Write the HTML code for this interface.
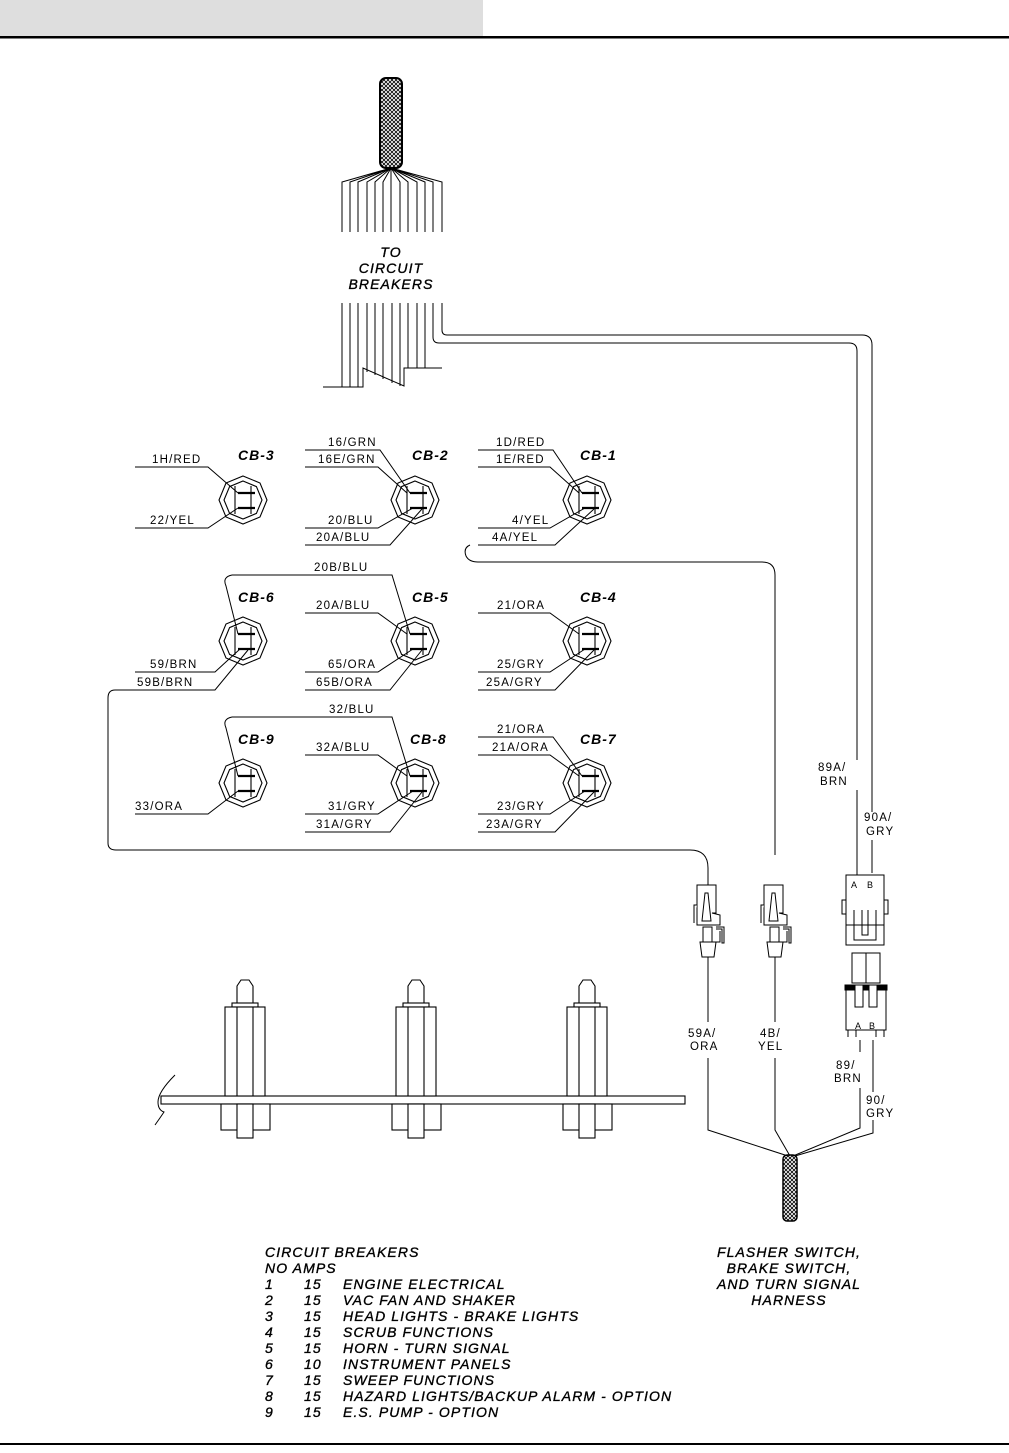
<!DOCTYPE html>
<html><head><meta charset="utf-8"><style>
html,body{margin:0;padding:0;background:#fff;}
svg{display:block;}
text{font-family:"Liberation Sans",sans-serif;fill:#000;}
.w{font-size:11.5px;letter-spacing:1.2px;}
.cb{font-size:14px;font-style:italic;font-weight:bold;letter-spacing:1px;}
.it{font-size:14px;font-style:italic;letter-spacing:1.1px;stroke:#000;stroke-width:0.35px;}
</style></head><body>
<svg width="1009" height="1453" viewBox="0 0 1009 1453" xmlns="http://www.w3.org/2000/svg">
<defs>
<pattern id="mesh" width="4" height="4" patternUnits="userSpaceOnUse">
<path d="M0 0L4 4M4 0L0 4" stroke="#000" stroke-width="0.8"/>
</pattern>
<g id="cbk" fill="none" stroke="#000" stroke-width="1.1">
<polygon points="0,-24 17,-17 24,0 17,17 0,24 -17,17 -24,0 -17,-17"/>
<polygon points="0,-19 13.4,-13.4 19,0 13.4,13.4 0,19 -13.4,13.4 -19,0 -13.4,-13.4"/>
<line x1="-8" y1="-14" x2="-8" y2="14"/>
<line x1="8" y1="-14" x2="8" y2="14"/>
<line x1="-5" y1="-7" x2="12" y2="-7" stroke-width="2.2"/>
<line x1="-5" y1="8" x2="12" y2="8" stroke-width="2.2"/>
</g>
<g id="post" fill="#fff" stroke="#000" stroke-width="1.1">
<path d="M0 1003 V986 L4 980 H12 L16 986 V1003 Z"/>
<rect x="-5" y="1003" width="26" height="4"/>
<rect x="-12" y="1007" width="40" height="89"/>
<line x1="0" y1="1007" x2="0" y2="1096"/><line x1="16" y1="1007" x2="16" y2="1096"/>
<rect x="-16" y="1104" width="49" height="26"/>
<rect x="0" y="1104" width="16" height="34"/>
</g>
<g id="conn" fill="#fff" stroke="#000" stroke-width="1">
<path d="M-11 0 H8 V28 H4 L12 30 V40 H-11 Z"/>
<path d="M-3 8 L-6 36 H3 L0 8 Z"/>
<path d="M-11 20 H-14 V38"/>
<path d="M8 42 H16 V58 H14 V44 H8"/>
<rect x="-5" y="42" width="9" height="15"/>
<path d="M-8 57 H8 L6 72 H-6 Z"/>
<path d="M4 57 H12 V46"/>
</g>
</defs>
<rect x="0" y="0" width="483" height="36" fill="#dedede"/>
<rect x="0" y="36" width="1009" height="2.5" fill="#000"/>
<rect x="0" y="1443" width="1009" height="2" fill="#000"/>

<!-- top harness -->
<rect x="380" y="78" width="22" height="90" rx="6" fill="url(#mesh)" stroke="#000" stroke-width="2"/>
<g stroke="#000" stroke-width="1" fill="none">
<path d="M391 168 L342 182 V232 M391 168 L350 182 V232 M391 168 L358 182 V232 M391 168 L367 182 V232 M391 168 L375 182 V232 M391 168 L383 182 V232 M391 168 V232 M391 168 L400 182 V232 M391 168 L408 182 V232 M391 168 L417 182 V232 M391 168 L425 182 V232 M391 168 L433 182 V232 M391 168 L442 182 V232"/>
<path d="M342 303 V387 M350 303 V387 M358 303 V387 M367 303 V372 M375 303 V375 M383 303 V379 M392 303 V383 M400 303 V386 M408 303 V368 M417 303 V368 M425 303 V368"/>
<path d="M323 387 H363 V368 L404 386 V368 H442"/>
<path d="M433 303 V337 Q433 343 439 343 H849 Q857 343 857 351 V760 M857 790 V875"/>
<path d="M442 303 V330 Q442 335 447 335 H862 Q872 335 872 345 V812 M872 840 V873"/>
</g>
<text class="it" x="391" y="257" text-anchor="middle">TO</text>
<text class="it" x="391" y="273" text-anchor="middle">CIRCUIT</text>
<text class="it" x="391" y="289" text-anchor="middle">BREAKERS</text>

<!-- breakers -->
<use href="#cbk" x="243" y="500"/><use href="#cbk" x="415" y="500"/><use href="#cbk" x="587" y="500"/>
<use href="#cbk" x="243" y="641"/><use href="#cbk" x="415" y="641"/><use href="#cbk" x="587" y="641"/>
<use href="#cbk" x="243" y="783"/><use href="#cbk" x="415" y="783"/><use href="#cbk" x="587" y="783"/>
<text class="cb" x="238" y="460">CB-3</text><text class="cb" x="412" y="460">CB-2</text><text class="cb" x="580" y="460">CB-1</text>
<text class="cb" x="238" y="602">CB-6</text><text class="cb" x="412" y="602">CB-5</text><text class="cb" x="580" y="602">CB-4</text>
<text class="cb" x="238" y="744">CB-9</text><text class="cb" x="410" y="744">CB-8</text><text class="cb" x="580" y="744">CB-7</text>

<g stroke="#000" stroke-width="1" fill="none">
<path d="M135 467 H208 L238 493 M135 528 H208 L238 508"/>
<path d="M305 450 H380 L410 493 M305 467 H378 L407 493 M305 528 H378 L413 508 M305 545 H390 L422 509"/>
<path d="M478 450 H553 L582 493 M478 467 H550 L579 493 M478 528 H550 L585 508 M478 545 H555 L594 509"/>
<path d="M470 545 Q463 548 466 556 Q469 562 478 562 H762 Q775 562 775 575 V855"/>
<path d="M232 575 H392 L410 634 M232 575 Q222 577 226 586 L238 634"/>
<path d="M305 613 H378 L407 634 M305 672 H378 L413 649 M305 690 H390 L422 650"/>
<path d="M478 613 H550 L579 634 M478 672 H550 L585 649 M478 690 H555 L594 650"/>
<path d="M135 672 H215 L240 649 M115 690 H215 L248 650"/>
<path d="M115 690 Q108 690 108 698 V843 Q108 850 116 850 H690 Q708 850 708 868 V885"/>
<path d="M232 717 H392 L410 776 M232 717 Q222 719 226 728 L238 776"/>
<path d="M305 755 H378 L407 776 M305 814 H378 L413 791 M305 832 H390 L422 792"/>
<path d="M478 737 H553 L582 776 M478 755 H550 L579 776 M478 814 H550 L585 791 M478 832 H555 L594 792"/>
<path d="M135 814 H208 L238 791"/>
</g>
<g class="w">
<text x="152" y="463">1H/RED</text><text x="150" y="524">22/YEL</text>
<text x="328" y="446">16/GRN</text><text x="318" y="463">16E/GRN</text><text x="328" y="524">20/BLU</text><text x="316" y="541">20A/BLU</text>
<text x="496" y="446">1D/RED</text><text x="496" y="463">1E/RED</text><text x="512" y="524">4/YEL</text><text x="492" y="541">4A/YEL</text>
<text x="314" y="571">20B/BLU</text>
<text x="316" y="609">20A/BLU</text><text x="328" y="668">65/ORA</text><text x="316" y="686">65B/ORA</text>
<text x="497" y="609">21/ORA</text><text x="497" y="668">25/GRY</text><text x="486" y="686">25A/GRY</text>
<text x="150" y="668">59/BRN</text><text x="137" y="686">59B/BRN</text>
<text x="329" y="713">32/BLU</text><text x="316" y="751">32A/BLU</text><text x="328" y="810">31/GRY</text><text x="316" y="828">31A/GRY</text>
<text x="497" y="733">21/ORA</text><text x="492" y="751">21A/ORA</text><text x="497" y="810">23/GRY</text><text x="486" y="828">23A/GRY</text>
<text x="135" y="810">33/ORA</text>
<text x="818" y="771">89A/</text><text x="820" y="785">BRN</text>
<text x="864" y="821">90A/</text><text x="866" y="835">GRY</text>
<text x="688" y="1037">59A/</text><text x="690" y="1050">ORA</text>
<text x="760" y="1037">4B/</text><text x="758" y="1050">YEL</text>
<text x="836" y="1069">89/</text><text x="834" y="1082">BRN</text>
<text x="866" y="1104">90/</text><text x="866" y="1117">GRY</text>
</g>

<use href="#conn" x="708" y="885"/>
<use href="#conn" x="775" y="885"/>
<g stroke="#000" stroke-width="1" fill="none">
<path d="M708 957 V1022 M708 1058 V1130 L788 1156"/>
<path d="M775 957 V1022 M775 1058 V1130 L790 1156"/>
<path d="M860 1040 V1052 M860 1088 V1128 L793 1156"/>
<path d="M873 1040 V1092 M873 1120 V1133 L795 1156"/>
</g>
<g stroke="#000" stroke-width="1" fill="#fff">
<rect x="846" y="875" width="38" height="70"/>
<line x1="846" y1="925" x2="884" y2="925"/>
<path d="M854 910 V940 H876 V910 M862 910 V935 H868 V910" fill="none"/>
<rect x="842" y="900" width="4" height="14"/><rect x="884" y="900" width="4" height="14"/>
<rect x="852" y="953" width="28" height="30"/>
<line x1="866" y1="953" x2="866" y2="983"/>
<rect x="846" y="986" width="40" height="44"/>
<rect x="845" y="985" width="42" height="5" fill="#000"/>
<rect x="855" y="985" width="8" height="22"/><rect x="869" y="985" width="8" height="22"/>
<path d="M848 1030 V1037 M856 1030 V1037 M876 1030 V1037 M884 1030 V1037" fill="none"/>
</g>
<text x="851" y="888" style="font-size:9px">A</text><text x="867" y="888" style="font-size:9px">B</text>
<text x="855" y="1029" style="font-size:9px">A</text><text x="869" y="1029" style="font-size:9px">B</text>
<rect x="783" y="1155" width="14" height="66" rx="4" fill="url(#mesh)" stroke="#000" stroke-width="1.5"/>

<rect x="161" y="1096" width="524" height="8" fill="#fff" stroke="#000" stroke-width="1.1"/>
<path d="M175 1075 Q158 1092 158 1102 Q158 1110 164 1112 Q160 1118 155 1125" fill="none" stroke="#000" stroke-width="1"/>
<use href="#post" x="237" y="0"/><use href="#post" x="408" y="0"/><use href="#post" x="579" y="0"/>

<g class="it">
<text x="265" y="1257">CIRCUIT BREAKERS</text>
<text x="265" y="1273">NO  AMPS</text>
<text x="265" y="1289">1</text><text x="304" y="1289">15</text><text x="343" y="1289">ENGINE ELECTRICAL</text>
<text x="265" y="1305">2</text><text x="304" y="1305">15</text><text x="343" y="1305">VAC FAN AND SHAKER</text>
<text x="265" y="1321">3</text><text x="304" y="1321">15</text><text x="343" y="1321">HEAD LIGHTS - BRAKE LIGHTS</text>
<text x="265" y="1337">4</text><text x="304" y="1337">15</text><text x="343" y="1337">SCRUB FUNCTIONS</text>
<text x="265" y="1353">5</text><text x="304" y="1353">15</text><text x="343" y="1353">HORN - TURN SIGNAL</text>
<text x="265" y="1369">6</text><text x="304" y="1369">10</text><text x="343" y="1369">INSTRUMENT PANELS</text>
<text x="265" y="1385">7</text><text x="304" y="1385">15</text><text x="343" y="1385">SWEEP FUNCTIONS</text>
<text x="265" y="1401">8</text><text x="304" y="1401">15</text><text x="343" y="1401">HAZARD LIGHTS/BACKUP ALARM - OPTION</text>
<text x="265" y="1417">9</text><text x="304" y="1417">15</text><text x="343" y="1417">E.S. PUMP - OPTION</text>
<text x="789" y="1257" text-anchor="middle">FLASHER SWITCH,</text>
<text x="789" y="1273" text-anchor="middle">BRAKE SWITCH,</text>
<text x="789" y="1289" text-anchor="middle">AND TURN SIGNAL</text>
<text x="789" y="1305" text-anchor="middle">HARNESS</text>
</g>
</svg>
</body></html>
